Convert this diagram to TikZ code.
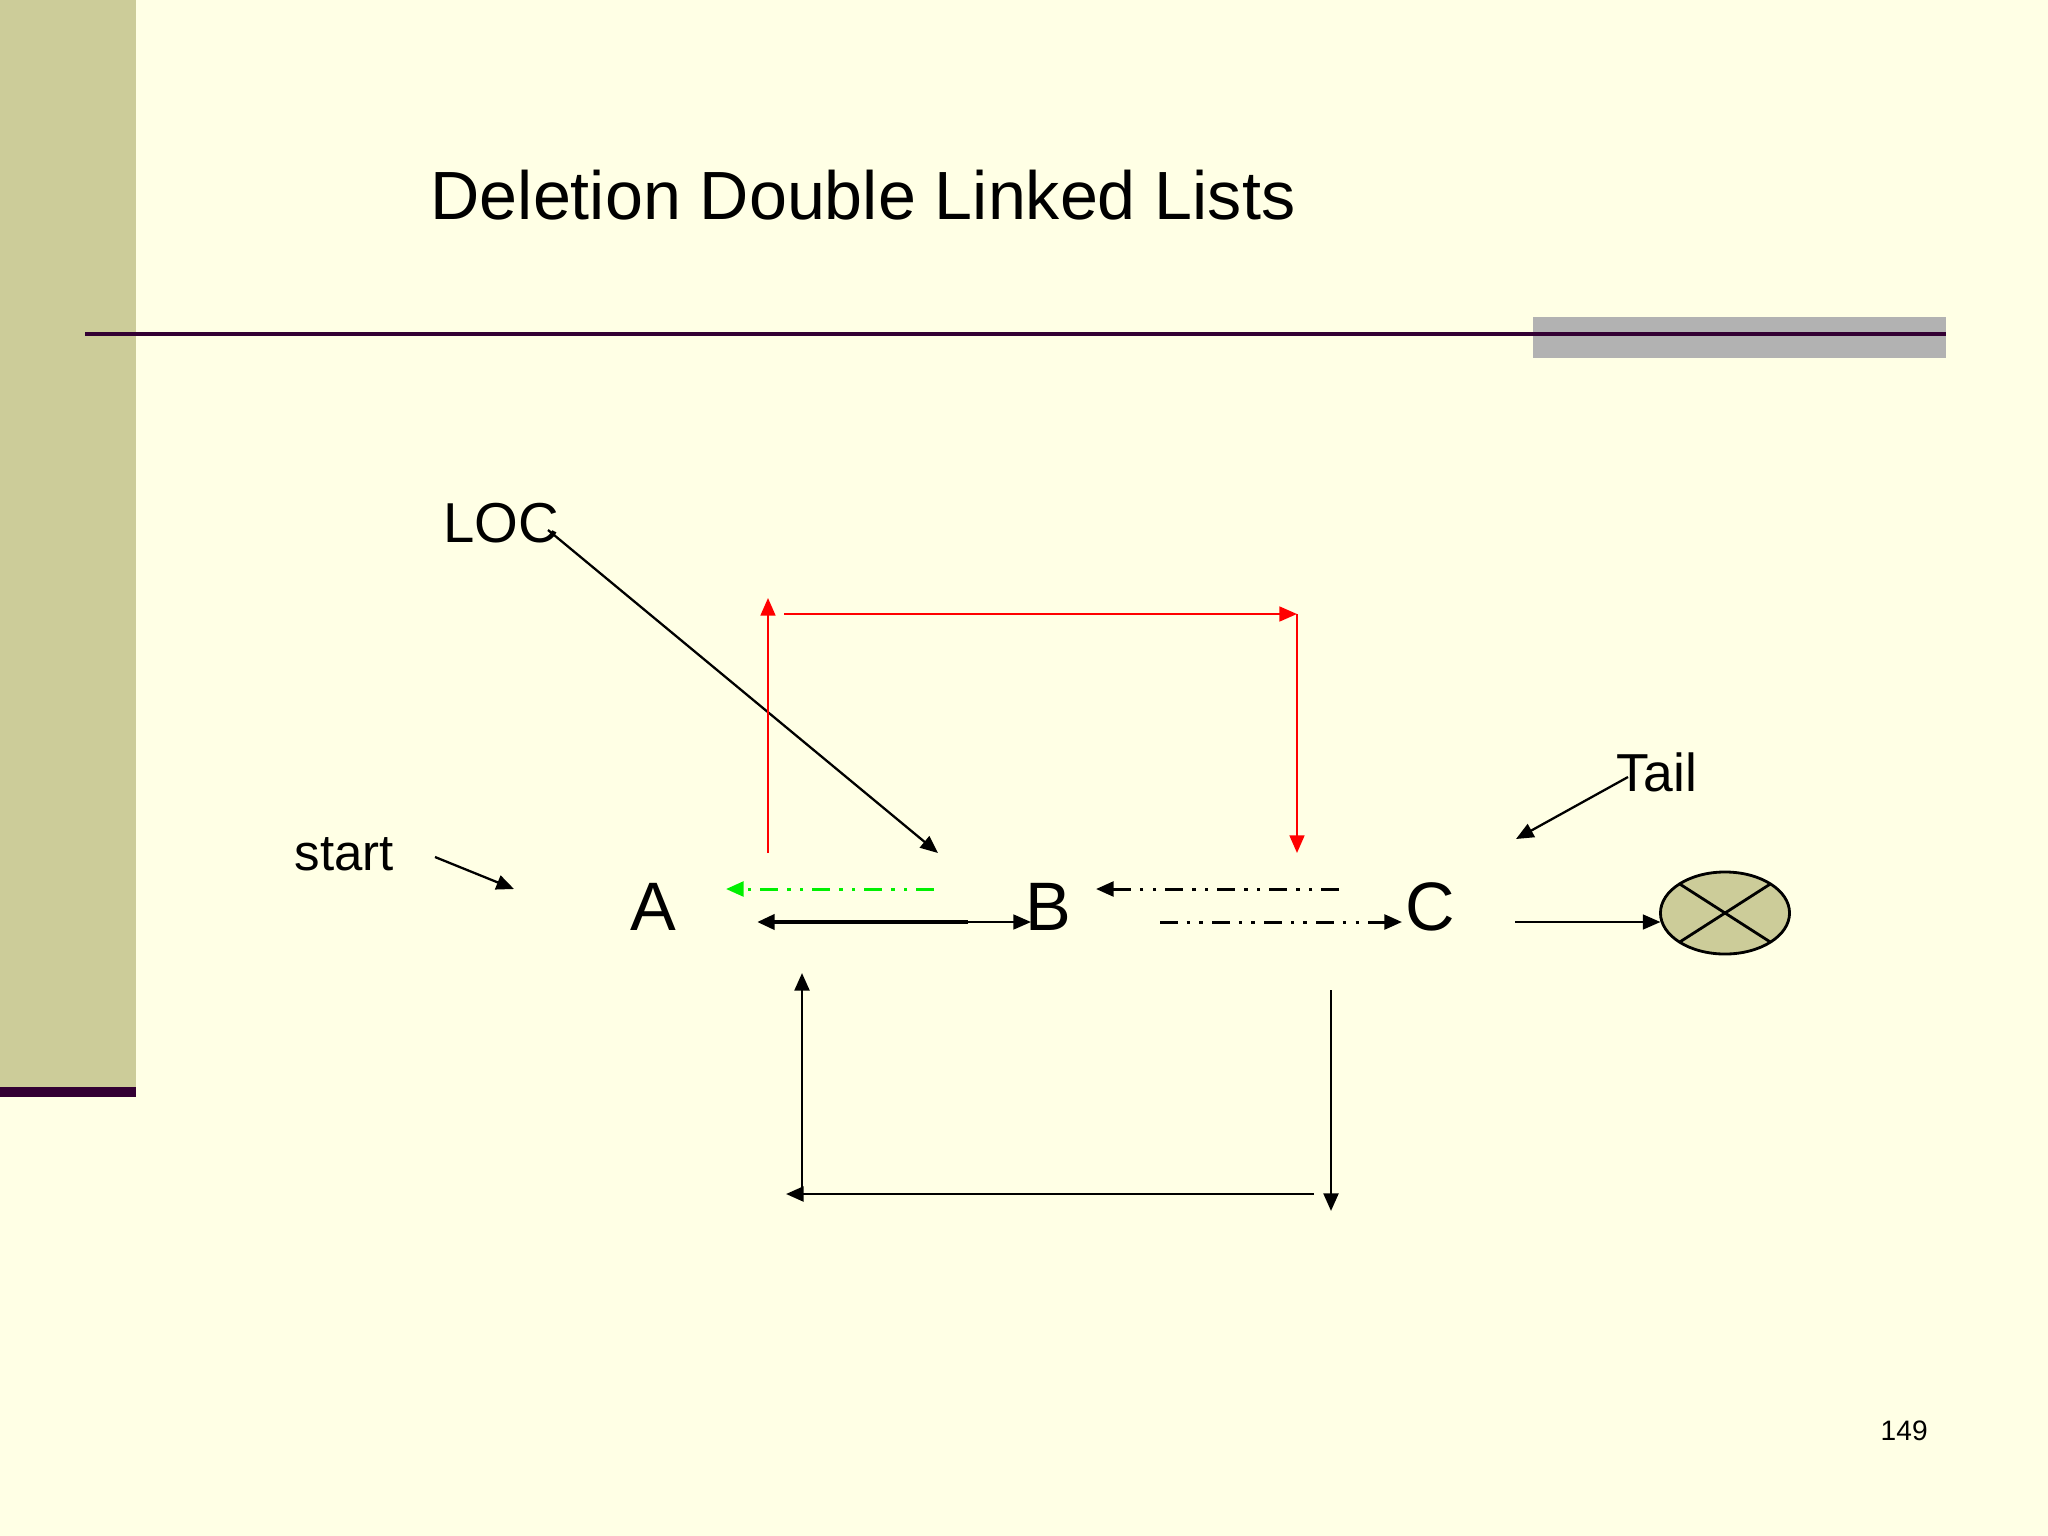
\documentclass[tikz,border=0pt]{standalone}
\usepackage{fontspec}
\setmainfont{Liberation Sans}
\usetikzlibrary{arrows.meta,shapes.geometric,calc}
\definecolor{bgcream}{RGB}{255,255,229}
\definecolor{olivefill}{RGB}{204,204,153}
\definecolor{darkplum}{RGB}{51,0,51}
\definecolor{bargrey}{RGB}{178,178,178}
\definecolor{brightgreen}{RGB}{0,240,0}
\begin{document}
\begin{tikzpicture}[x=0.01cm,y=-0.01cm,
  lbl/.style={inner sep=0pt, anchor=base west},
  letter/.style={inner sep=0pt, anchor=base, font=\fontsize{19.5}{22}\selectfont},
  arr/.style={-{Triangle[length=5pt,width=4.2pt]}},
  thinln/.style={line width=0.65pt},
  loopln/.style={line width=0.8pt},
  dashdotdot/.style={line width=0.85pt, dash pattern=on 5pt off 2.6pt on 1pt off 2.6pt on 1pt off 2.6pt}
]
\useasboundingbox (0,0) rectangle (2048,1536);
% background and slide decoration
\fill[bgcream] (0,0) rectangle (2048,1536);
\fill[olivefill] (0,0) rectangle (136,1087);
\fill[darkplum] (0,1087) rectangle (136,1097);
\fill[bargrey] (1533,317) rectangle (1946,358);
\draw[darkplum, line width=1.15pt] (85,334) -- (1946,334);

% texts
\node[lbl, font=\fontsize{19.4}{23}\selectfont] (title) at (430,219) {Deletion Double Linked Lists};
\node[lbl, font=\fontsize{16}{19}\selectfont] (loc) at (443,542) {LOC};
\node[lbl, font=\fontsize{14.5}{17}\selectfont] (start) at (294,870) {start};
\node[lbl, font=\fontsize{15.2}{18}\selectfont] (tail) at (1616,791) {Tail};
\node[letter] (A) at (653,930) {A};
\node[letter] (B) at (1048,930) {B};
\node[letter] (C) at (1430,930) {C};
\node[lbl, font=\fontsize{8}{10}\selectfont] (pg) at (1880,1440) {149};

% null terminator
\node[draw, line width=0.8pt, fill=olivefill, ellipse, minimum width=1.29cm, minimum height=0.82cm, inner sep=0pt, outer sep=0pt] (null) at (1725,913) {};
\draw[line width=0.8pt] ($(null.center)+(45:64 and 41)$) -- ($(null.center)+(225:64 and 41)$);
\draw[line width=0.8pt] ($(null.center)+(135:64 and 41)$) -- ($(null.center)+(315:64 and 41)$);

% connector end points
\coordinate (locS) at (548,530);   \coordinate (locE) at (938,853);
\coordinate (stS) at (435,857);    \coordinate (stE) at (514,889);
\coordinate (tlS) at (1628,777);   \coordinate (tlE) at (1516,839);
\coordinate (gS) at (934,889);     \coordinate (gE) at (726,889);
\coordinate (abL) at (757,922);    \coordinate (abM) at (968,922);  \coordinate (abR) at (1031,922);
\coordinate (abT) at (940,922);
\coordinate (cbS) at (1339,889);   \coordinate (cbE) at (1096,889);
\coordinate (bcS) at (1160,922);   \coordinate (bcE) at (1402,922);
\coordinate (cnS) at (1515,922);
\coordinate (r1S) at (768,853);    \coordinate (r1E) at (768,598);
\coordinate (r2S) at (784,614);    \coordinate (r2E) at (1297,614);
\coordinate (r3E) at (1297,853);
\coordinate (k1S) at (802,1194);   \coordinate (k1E) at (802,973);
\coordinate (k2S) at (1314,1194);  \coordinate (k2E) at (786,1194);
\coordinate (k3S) at (1331,990);   \coordinate (k3E) at (1331,1211);

% pointers
\draw[arr, thinln] (locS) -- (locE);
\draw[arr, thinln] (stS) -- (stE);
\draw[arr, thinln] (tlS) -- (tlE);
\draw[arr, thinln] (cnS) -- (cnS -| null.west);

% links between nodes
\draw[arr, dashdotdot, brightgreen] (gS) -- (gE);
\draw[arr, thinln] (abT) -- (abR);
\draw[arr, line width=1.2pt] (abM) -- (abL);
\draw[arr, dashdotdot] (cbS) -- (cbE);
\draw[arr, dashdotdot] (bcS) -- (bcE);

% red bypass
\draw[arr, thinln, red] (r1S) -- (r1E);
\draw[arr, thinln, red] (r2S) -- (r2E);
\draw[arr, thinln, red] (r2E) -- (r3E);

% black bypass below
\draw[arr, loopln] (k1S) -- (k1E);
\draw[arr, loopln] (k2S) -- (k2E);
\draw[arr, loopln] (k3S) -- (k3E);
\end{tikzpicture}
\end{document}
